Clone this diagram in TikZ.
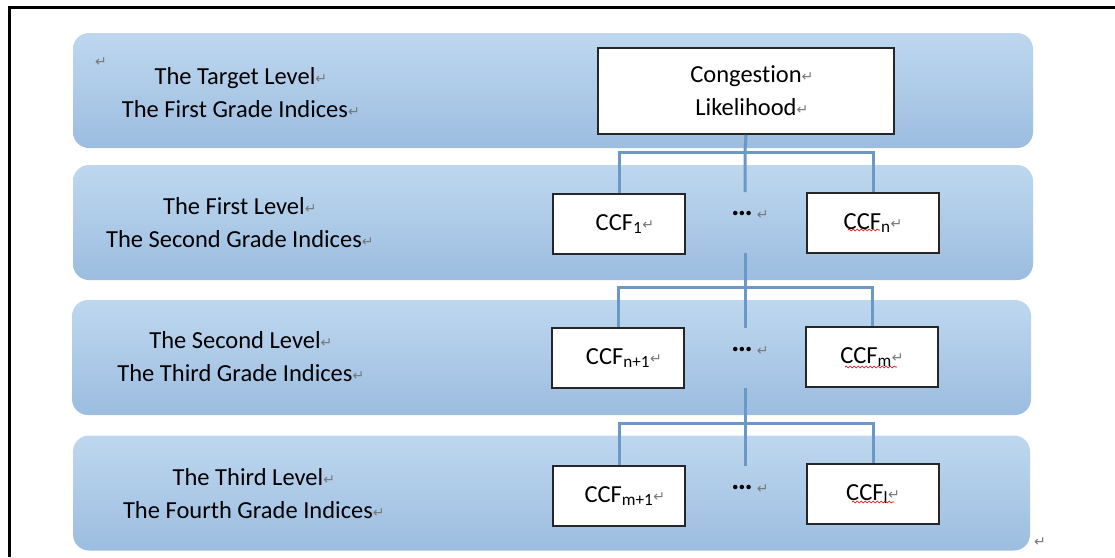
\documentclass[tikz,border=0pt]{standalone}
\usepackage{fontspec}
\setmainfont{Carlito}[Ligatures=NoCommon]
\newfontfamily\symfont{DejaVu Sans}
\usetikzlibrary{decorations.pathmorphing}
\definecolor{bandtop}{RGB}{190,215,239}
\definecolor{bandbot}{RGB}{156,189,224}
\definecolor{conncol}{RGB}{108,152,197}
\definecolor{retgray}{RGB}{120,120,120}
\newcommand\parmark{{\symfont\fontsize{14}{14}\selectfont\color{retgray}\raisebox{1pt}{↵}}}
\newcommand\rmark{\rlap{\parmark}}
\newcommand\hdots{\raisebox{5pt}{\fontsize{30}{30}\selectfont\textbf{…}}\,}
\tikzset{
  band/.style={rounded corners=16pt, top color=bandtop, bottom color=bandbot, draw=none, minimum width=960pt, minimum height=115pt, inner sep=0pt},
  cbox/.style={draw=black!85, line width=1.6pt, fill=white, minimum width=132pt, minimum height=60pt, inner sep=0pt, font=\fontsize{24.5}{28}\selectfont},
  lvl/.style={align=center, font=\fontsize{24.5}{33}\selectfont, inner sep=0pt},
  conn/.style={draw=conncol, line width=3pt},
  dotsn/.style={font=\fontsize{24.5}{28}\selectfont, inner sep=0pt},
  wavy/.style={draw=red!85!black, line width=0.6pt, decorate, decoration={snake, amplitude=1pt, segment length=4pt}},
  frame/.style={draw=black, line width=3pt}
}
\begin{document}
\begin{tikzpicture}[x=1pt,y=-1pt]
\useasboundingbox (0,0) rectangle (1115,557);
% frame
\coordinate (fa) at (9,557);
\coordinate (fb) at (9,7);
\coordinate (fc) at (1115,7);
\draw[frame] (fa) -- (fb) -- (fc);
% bands
\node[band] (band1) at (553,90.5) {};
\node[band] (band2) at (553,222.5) {};
\node[band, minimum width=959pt] (band3) at (551.5,357.5) {};
\node[band, minimum width=957pt] (band4) at (551.5,493) {};
% level labels
\node[lvl] (l1) at (235,93) {The Target Level\rmark\\The First Grade Indices\rmark};
\node[lvl] (l2) at (234,222.5) {The First Level\rmark\\The Second Grade Indices\rmark};
\node[lvl] (l3) at (235,356.5) {The Second Level\rmark\\The Third Grade Indices\rmark};
\node[lvl] (l4) at (248,493.5) {The Third Level\rmark\\The Fourth Grade Indices\rmark};
\node[inner sep=0pt] (pm0) at (101,63) {\parmark};
\node[inner sep=0pt] (pm9) at (1040,543) {\parmark};
% top box
\node[cbox, minimum width=296pt, minimum height=86pt, align=center, font=\fontsize{24.5}{33}\selectfont] (top) at (746,91) {Congestion\rmark\\Likelihood\rmark};
% level 2
\node[cbox] (c1) at (619,224) {CCF\textsubscript{1}\rmark};
\node[cbox] (cn) at (873,223) {CCF\textsubscript{n}\parmark};
\node[dotsn] (d1) at (750,216) {\hdots\parmark};
% level 3
\node[cbox] (c2) at (618,358) {CCF\textsubscript{n+1}\rmark};
\node[cbox] (cm) at (872,357) {CCF\textsubscript{m}\parmark};
\node[dotsn] (d2) at (750,352) {\hdots\parmark};
% level 4
\node[cbox] (c3) at (619,496) {CCF\textsubscript{m+1}\rmark};
\node[cbox] (cl) at (873,494) {CCF\textsubscript{l}\parmark};
\node[dotsn] (d3) at (750,490) {\hdots\parmark};
% connector anchors
\coordinate (bus1) at (745,152);
\coordinate (m1) at (745,192);
\coordinate (s1) at (745,253);
\coordinate (bus2) at (745,287);
\coordinate (m2) at (745,328);
\coordinate (s2) at (745,388);
\coordinate (bus3) at (745,423);
\coordinate (m3) at (745,466);
% connectors
\draw[conn] (top.south) -- (bus1) -- (m1);
\draw[conn] (c1.north) |- (bus1) -| (cn.north);
\draw[conn] (s1) -- (bus2) -- (m2);
\draw[conn] (c2.north) |- (bus2) -| (cm.north);
\draw[conn] (s2) -- (bus3) -- (m3);
\draw[conn] (c3.north) |- (bus3) -| (cl.north);
% spell-check marks
\draw[wavy] ([xshift=-25pt,yshift=-7pt]cn.center) -- ++(32,0);
\draw[wavy] ([xshift=-27pt,yshift=-10pt]cm.center) -- ++(52,0);
\draw[wavy] ([xshift=-21pt,yshift=-8pt]cl.center) -- ++(42,0);
\end{tikzpicture}
\end{document}
